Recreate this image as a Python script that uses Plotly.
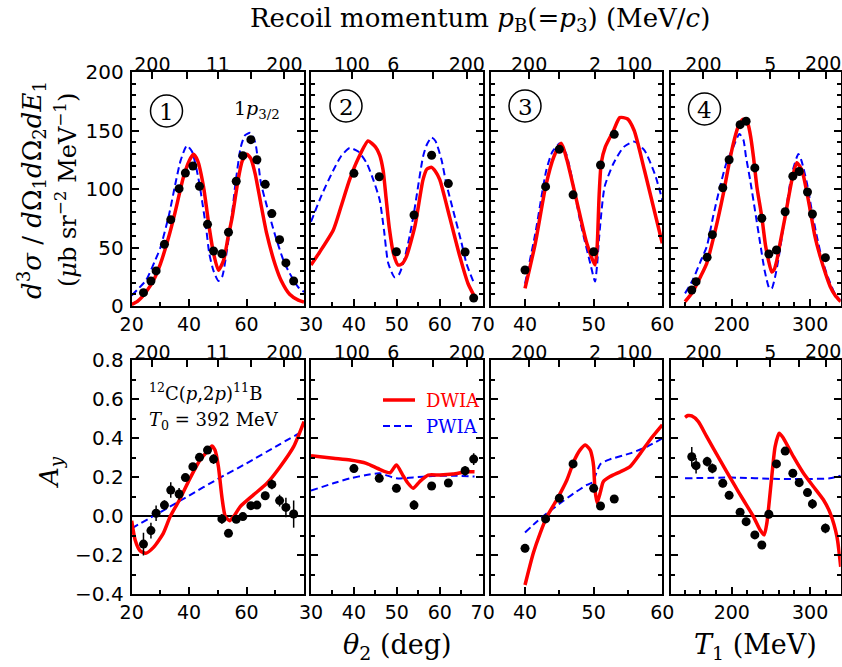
import plotly.graph_objects as go

W, H = 842, 667

# ---------------- data ----------------
# panel 1 (theta2 in deg)
theta_p1 = [24.1, 26.7, 28.5, 31.4, 33.6, 36.5, 38.7, 41.3, 43.6, 46.4, 48.5, 51.4,
            53.7, 56.4, 58.7, 61.5, 63.6, 66.5, 68.8, 71.5, 73.7, 76.4]
xs_p1 = [11.4, 21.4, 30, 52.7, 73.8, 100.3, 113.7, 119.7, 102.3, 69.8, 47, 44.7,
         63, 106.6, 128.5, 142.2, 125, 104, 79, 56.7, 36.8, 21.4]
ay_p1 = [-0.144, -0.075, 0.014, 0.056, 0.133, 0.113, 0.197, 0.253, 0.301, 0.338, 0.292, -0.015,
         -0.089, -0.017, -0.003, 0.053, 0.056, 0.104, 0.162, 0.079, 0.044, 0.01]
ay_err_p1 = [0.058, 0.04, 0.04, 0.025, 0.04, 0.03, 0.015, 0.015, 0.015, 0.015, 0.025, 0.025,
             0.015, 0.015, 0.015, 0.015, 0.015, 0.02, 0.025, 0.03, 0.05, 0.07]
dw_xs_x_p1 = [20, 22, 25, 28, 30, 33, 35, 38, 40, 41.5, 43, 45, 47, 48.5, 50.2, 52, 53.5, 55, 57,
              58.5, 60.1, 61.5, 63, 65, 67, 70, 72, 75, 78, 80]
dw_xs_y_p1 = [1.4, 4, 12, 24, 36, 60, 79, 110, 124, 129.6, 124, 102, 67, 45, 30.5, 39, 58, 76, 107,
              124, 129.6, 126, 113, 87, 62, 35, 22, 10, 5, 3.4]
pw_xs_x_p1 = [20, 22, 25, 28, 30, 33, 35, 37, 39.2, 41, 43, 44, 46, 47, 48.5, 50.2, 51.5, 53, 55,
              56, 58, 59.5, 61.3, 63, 65, 67, 70, 73, 75, 78, 80]
pw_xs_y_p1 = [9, 14, 22, 38, 50, 78, 102, 124, 137, 132, 112, 98, 65, 45, 30, 21.4, 25, 45, 80,
              102, 136, 146, 148, 140, 105, 86, 60, 38, 28, 16, 12]
dw_ay_x_p1 = [20, 21.2, 22.9, 24.9, 27.6, 31, 33.4, 36.9, 40.3, 43.8, 46.7, 47.9, 49, 50.2, 51.4,
              52.6, 54.1, 55.5, 57.8, 62.4, 67.1, 71.7, 76.4, 80]
dw_ay_y_p1 = [-0.024, -0.123, -0.178, -0.191, -0.161, -0.089, -0.003, 0.09, 0.193, 0.287, 0.338,
              0.359, 0.338, 0.253, 0.099, -0.003, -0.024, -0.003, 0.048, 0.108, 0.168, 0.253, 0.356, 0.484]
pw_ay_x_p1 = [20, 30, 40, 50, 60, 70, 80]
pw_ay_y_p1 = [-0.063, 0.02, 0.105, 0.19, 0.27, 0.355, 0.438]

# panel 2 (theta2 in deg)
theta_p2 = [40.0, 45.9, 49.9, 54.0, 58.1, 62.0, 65.9, 67.9]
xs_p2 = [113.4, 110.5, 46.4, 77.8, 128.8, 104.6, 46.2, 6.8]
ay_p2 = [0.243, 0.193, 0.142, 0.056, 0.154, 0.169, 0.232, 0.292]
ay_err_p2 = [0.02, 0.02, 0.02, 0.025, 0.02, 0.02, 0.025, 0.03]
dw_xs_x_p2 = [30, 32, 35.2, 37, 39, 41, 43.3, 45, 46, 46.8, 47.5, 48.2, 49.2, 50.3, 51.2, 52.2, 54.2,
              56.1, 57, 58.1, 59, 60, 62.3, 64.7, 66.6, 68.1]
dw_xs_y_p2 = [35, 46, 65, 85, 108, 126, 141, 136, 129, 116, 92, 68, 45, 35, 36, 42, 68,
              108, 117, 118.5, 115, 108, 76, 42, 19, 8]
pw_xs_x_p2 = [30, 32.5, 35.2, 37, 39, 41, 43, 44.5, 46, 47, 48, 49.5, 50.5, 51.5, 53, 54, 56.1, 57,
              58.1, 59, 60.4, 61.5, 63.1, 65, 66.2, 67.8]
pw_xs_y_p2 = [72, 95, 116, 128, 135, 132, 122, 108, 90.6, 65, 36.5, 24.5, 27, 36.5, 60, 80, 127.6, 138,
              144, 141, 125, 105, 82, 55, 36.5, 21]
dw_ay_x_p2 = [30, 35.2, 39.1, 42.9, 46, 48.4, 49.9, 51.5, 52.6, 53.8, 55.3, 57.3, 60, 63.1, 66.2, 68.1]
dw_ay_y_p2 = [0.309, 0.296, 0.287, 0.27, 0.239, 0.222, 0.262, 0.205, 0.168, 0.142, 0.176, 0.21,
              0.21, 0.215, 0.227, 0.227]
pw_ay_x_p2 = [30, 35.2, 39.1, 42.9, 46, 49.9, 53.8, 58.4, 63.1, 68.1]
pw_ay_y_p2 = [0.13, 0.168, 0.193, 0.21, 0.219, 0.193, 0.198, 0.205, 0.207, 0.202]

# panel 3 (theta2 in deg)
theta_p3 = [40.0, 43.0, 45.0, 47.0, 50.0, 51.0, 53.0]
xs_p3 = [30.8, 102, 134, 95, 46.4, 120.5, 146.7]
ay_p3 = [-0.166, -0.015, 0.091, 0.267, 0.142, 0.051, 0.087]
ay_err_p3 = [0.02, 0.015, 0.02, 0.02, 0.02, 0.02, 0.02]
dw_xs_x_p3 = [40, 41.5, 43, 44.2, 45.3, 46.1, 47.6, 49, 50.2, 50.5, 50.8, 51.1, 51.7, 52.9, 53.8,
              54.9, 55.9, 57.4, 60]
dw_xs_y_p3 = [15, 53.6, 102, 127.6, 139, 125, 88, 53.6, 35, 50, 95, 122, 136, 150, 161,
              160, 150, 116, 53.6]
pw_xs_x_p3 = [40, 41.5, 43.1, 44, 45.1, 46, 46.6, 48.1, 49.5, 50.2, 50.5, 50.8, 51.6, 52.9, 54.4,
              55.9, 57.4, 58.9, 60]
pw_xs_y_p3 = [19, 62, 116, 132, 139, 130, 116, 70.7, 36.5, 21, 35, 59, 102, 122, 136,
              140.5, 133, 113, 90.6]
dw_ay_x_p3 = [40, 41.2, 42.2, 43.2, 44.6, 46.1, 47.1, 48, 48.8, 49.5, 49.8, 50, 50.2, 50.5, 51,
              51.4, 52.4, 53.9, 55.3, 56.8, 58.2, 60]
dw_ay_y_p3 = [-0.354, -0.191, -0.089, -0.003, 0.082, 0.185, 0.279, 0.338, 0.364, 0.338, 0.3, 0.253,
              0.133, 0.068, 0.125, 0.176, 0.202, 0.227, 0.253, 0.321, 0.39, 0.467]
pw_ay_x_p3 = [40, 41.7, 43.2, 45.1, 47.1, 49, 50, 50.2, 51, 52.4, 55.3, 57.8, 60]
pw_ay_y_p3 = [-0.085, -0.029, 0.014, 0.065, 0.116, 0.159, 0.176, 0.202, 0.267, 0.291, 0.321, 0.356, 0.398]

# panel 4 (T1 in MeV)
t1_p4 = [148.9, 154.4, 168.5, 175.2, 188.5, 196.6, 210.6, 218.3, 229.4, 238.3, 247.3, 257.0,
         268.1, 277.9, 286.0, 296.6, 302.9, 319.5]
xs_p4 = [13.7, 20.8, 41.6, 61, 101, 125, 155, 158, 118, 75, 44.4, 47.9, 80.6, 111, 115, 97.4, 78.6, 41.3]
ay_p4 = [0.304, 0.258, 0.279, 0.244, 0.168, 0.106, 0.019, -0.029, -0.097, -0.149, 0.009, 0.267,
         0.333, 0.219, 0.171, 0.12, 0.062, -0.063]
ay_err_p4 = [0.05, 0.04, 0.025, 0.025, 0.02, 0.02, 0.02, 0.02, 0.02, 0.02, 0.015, 0.02,
             0.02, 0.02, 0.02, 0.02, 0.025, 0.025]
dw_xs_x_p4 = [140.3, 150, 160, 168, 178, 189.2, 196, 202, 208, 214, 218, 221, 224, 227.6, 232, 238.3,
              243, 246.8, 251, 254, 257.5, 262, 268, 276.7, 283, 289.5, 295, 300, 306, 313, 320,
              325.7, 332, 339]
dw_xs_y_p4 = [3.7, 12, 25, 36.5, 62, 96, 120, 139, 153, 159.5, 158, 154.7, 145, 127.6, 102, 76,
              52, 39, 29, 31, 39, 55, 76, 107.7, 122.5, 116, 100, 82, 60, 42, 27,
              16.5, 9, 3.7]
pw_xs_x_p4 = [140.3, 150, 160, 168, 176, 185, 193, 202, 209.7, 214.8, 218, 223.4, 230, 236.2, 242,
              248, 251, 255.3, 260, 266, 276.7, 285, 289, 295.9, 302, 308.7, 316, 325.7, 332, 339]
pw_xs_y_p4 = [10.8, 22, 38, 50.7, 76, 102, 122, 136, 147, 142, 128, 107.7, 80, 53.6, 30,
              15, 15, 25, 42, 68, 113, 130, 124, 105, 82, 59, 38, 19.4, 10, 4.6]
dw_ay_x_p4 = [140.3, 144, 148.8, 157.3, 168, 185, 202, 214.8, 227.6, 236.2, 241.3, 244.7, 251,
              255.3, 260.5, 266, 278.7, 291.5, 304.3, 317.1, 325.7, 334.2, 339]
dw_ay_y_p4 = [0.506, 0.515, 0.513, 0.484, 0.407, 0.287, 0.168, 0.082, -0.003, -0.072, -0.097, -0.038,
              0.202, 0.356, 0.424, 0.398, 0.304, 0.219, 0.15, 0.082, 0.014, -0.106, -0.26]
pw_ay_x_p4 = [140.3, 200, 260, 300, 325, 339]
pw_ay_y_p4 = [0.193, 0.197, 0.19, 0.19, 0.193, 0.207]

# recoil-momentum (top axis) ticks, given at the matching bottom-axis values
mom_at_p1 = [27.2, 39.2, 50.0, 61.6, 73.2]
mom_lab_p1 = ["200", "", "11", "", "200"]
mom_at_p2 = [39.5, 49.2, 58.5, 66.3]
mom_lab_p2 = ["100", "6", "", "200"]
mom_at_p3 = [40.6, 45.0, 50.2, 55.9]
mom_lab_p3 = ["200", "", "2", "100"]
mom_at_p4 = [163.7, 207.2, 249.0, 285.2, 320.3]
mom_lab_p4 = ["200", "", "5", "", "200"]

# bottom-axis ticks
xtick_p1 = [20, 40, 60, 80]
xtlab_p1 = ["20", "40", "60", ""]
xminor_p1 = [30, 50, 70]
xtick_p2 = [30, 40, 50, 60, 70]
xtlab_p2 = ["30", "40", "50", "60", "70"]
xminor_p2 = [35, 45, 55, 65]
xtick_p3 = [40, 50, 60]
xtlab_p3 = ["40", "50", "60"]
xminor_p3 = [35, 45, 55]
xtick_p4 = [200, 300]
xtlab_p4 = ["200", "300"]
xminor_p4 = [140, 160, 180, 220, 240, 260, 280, 320]

xrange_p1 = [20, 80]
xrange_p2 = [30, 70]
xrange_p3 = [35, 60]
xrange_p4 = [122, 339]

panel_labels = ["1", "2", "3", "4"]

# ---------------- figure ----------------
def fx(px):
    return px / W

def fy(py):
    return 1 - py / H

col_px = [(131.7, 304.0), (311.0, 482.7), (490.7, 662.3), (670.7, 840.7)]
row_px = [(72.0, 306.0), (360.0, 594.0)]

panels = [
    dict(xr=xrange_p1, xt=xtick_p1, xl=xtlab_p1, xm=xminor_p1, mt=mom_at_p1, ml=mom_lab_p1,
         xd=theta_p1, xs=xs_p1, ay=ay_p1, ae=ay_err_p1,
         dwx=dw_xs_x_p1, dwy=dw_xs_y_p1, pwx=pw_xs_x_p1, pwy=pw_xs_y_p1,
         dax=dw_ay_x_p1, day=dw_ay_y_p1, pax=pw_ay_x_p1, pay=pw_ay_y_p1),
    dict(xr=xrange_p2, xt=xtick_p2, xl=xtlab_p2, xm=xminor_p2, mt=mom_at_p2, ml=mom_lab_p2,
         xd=theta_p2, xs=xs_p2, ay=ay_p2, ae=ay_err_p2,
         dwx=dw_xs_x_p2, dwy=dw_xs_y_p2, pwx=pw_xs_x_p2, pwy=pw_xs_y_p2,
         dax=dw_ay_x_p2, day=dw_ay_y_p2, pax=pw_ay_x_p2, pay=pw_ay_y_p2),
    dict(xr=xrange_p3, xt=xtick_p3, xl=xtlab_p3, xm=xminor_p3, mt=mom_at_p3, ml=mom_lab_p3,
         xd=theta_p3, xs=xs_p3, ay=ay_p3, ae=ay_err_p3,
         dwx=dw_xs_x_p3, dwy=dw_xs_y_p3, pwx=pw_xs_x_p3, pwy=pw_xs_y_p3,
         dax=dw_ay_x_p3, day=dw_ay_y_p3, pax=pw_ay_x_p3, pay=pw_ay_y_p3),
    dict(xr=xrange_p4, xt=xtick_p4, xl=xtlab_p4, xm=xminor_p4, mt=mom_at_p4, ml=mom_lab_p4,
         xd=t1_p4, xs=xs_p4, ay=ay_p4, ae=ay_err_p4,
         dwx=dw_xs_x_p4, dwy=dw_xs_y_p4, pwx=pw_xs_x_p4, pwy=pw_xs_y_p4,
         dax=dw_ay_x_p4, day=dw_ay_y_p4, pax=pw_ay_x_p4, pay=pw_ay_y_p4),
]

TICKFONT = dict(family="DejaVu Sans", size=19, color="black")
SERIF = "DejaVu Serif"

fig = go.Figure()
layout = dict(
    width=W, height=H, margin=dict(l=0, r=0, t=0, b=0, autoexpand=False),
    paper_bgcolor="white", plot_bgcolor="white", showlegend=False,
)

edge_labels = []  # top-axis labels that sit at the right page edge

for row in range(2):
    for c, p in enumerate(panels):
        k = row * 4 + c + 1
        ktop = k + 8
        xa, ya = f"x{k}", f"y{k}"
        dom_x = [fx(col_px[c][0]), fx(col_px[c][1])]
        dom_y = [fy(row_px[row][1]), fy(row_px[row][0])]
        mom_text = list(p["ml"])
        if c == 3:
            # the last label would run past the page edge; drawn as an annotation instead
            edge_labels.append((row, mom_text[-1]))
            mom_text[-1] = ""
        layout[f"xaxis{k}"] = dict(
            domain=dom_x, anchor=ya, range=p["xr"], automargin=False,
            tickmode="array", tickvals=p["xt"], ticktext=p["xl"],
            ticks="inside", ticklen=7, tickwidth=1.5, tickcolor="black",
            minor=dict(tickmode="array", tickvals=p["xm"], ticks="inside", ticklen=4,
                       tickwidth=1.5, tickcolor="black"),
            showline=True, linewidth=2, linecolor="black", mirror=True,
            showgrid=False, zeroline=False, tickfont=TICKFONT, ticklabelstandoff=0,
        )
        layout[f"xaxis{ktop}"] = dict(
            overlaying=xa, anchor=ya, side="top", range=p["xr"], automargin=False,
            tickmode="array", tickvals=p["mt"], ticktext=mom_text,
            ticks="inside", ticklen=7, tickwidth=1.5, tickcolor="black",
            showline=False, showgrid=False, zeroline=False, tickfont=TICKFONT,
            ticklabelstandoff=-4,
        )
        if row == 0:
            yax = dict(range=[0, 200], tickmode="linear", tick0=0, dtick=50,
                       minor=dict(dtick=10, ticks="inside", ticklen=4, tickwidth=1.5,
                                  tickcolor="black"),
                       zeroline=False)
        else:
            yax = dict(range=[-0.4, 0.8], tickmode="linear", tick0=0, dtick=0.2,
                       tickformat=".1f",
                       minor=dict(dtick=0.1, ticks="inside", ticklen=4, tickwidth=1.5,
                                  tickcolor="black"),
                       zeroline=True, zerolinecolor="black", zerolinewidth=1.5)
        yax.update(domain=dom_y, anchor=xa, automargin=False, ticks="inside", ticklen=7,
                   tickwidth=1.5, tickcolor="black", showline=True, linewidth=2,
                   linecolor="black", mirror="ticks", showgrid=False,
                   showticklabels=(c == 0),
                   tickfont=dict(family="DejaVu Sans", size=20, color="black"),
                   ticklabelstandoff=2)
        layout[f"yaxis{k}"] = yax

        # invisible trace so that the top recoil-momentum axis is drawn
        fig.add_trace(go.Scatter(x=p["xr"], y=[None, None], xaxis=f"x{ktop}", yaxis=ya,
                                 mode="markers", marker=dict(opacity=0), hoverinfo="skip"))
        if row == 0:
            fig.add_trace(go.Scatter(x=p["pwx"], y=p["pwy"], xaxis=xa, yaxis=ya, mode="lines",
                                     line=dict(color="blue", width=2, dash="7px,4px",
                                               shape="spline", smoothing=0.6)))
            fig.add_trace(go.Scatter(x=p["dwx"], y=p["dwy"], xaxis=xa, yaxis=ya, mode="lines",
                                     line=dict(color="red", width=3.5, shape="spline",
                                               smoothing=0.6)))
            fig.add_trace(go.Scatter(x=p["xd"], y=p["xs"], xaxis=xa, yaxis=ya, mode="markers",
                                     marker=dict(color="black", size=9)))
        else:
            fig.add_trace(go.Scatter(x=p["pax"], y=p["pay"], xaxis=xa, yaxis=ya, mode="lines",
                                     line=dict(color="blue", width=2, dash="7px,4px",
                                               shape="spline", smoothing=0.6)))
            fig.add_trace(go.Scatter(x=p["dax"], y=p["day"], xaxis=xa, yaxis=ya, mode="lines",
                                     line=dict(color="red", width=3.5, shape="spline",
                                               smoothing=0.6)))
            fig.add_trace(go.Scatter(x=p["xd"], y=p["ay"], xaxis=xa, yaxis=ya, mode="markers",
                                     marker=dict(color="black", size=9),
                                     error_y=dict(type="data", array=p["ae"], color="black",
                                                  thickness=1.5, width=0)))

fig.update_layout(**layout)

annotations = []
shapes = []

def text(px, py, s, size, xanchor="center", color="black", angle=0, family=SERIF):
    annotations.append(dict(x=fx(px), y=fy(py), xref="paper", yref="paper", text=s,
                            showarrow=False, xanchor=xanchor, yanchor="middle",
                            textangle=angle, font=dict(family=family, size=size, color=color)))

# edge labels of the recoil-momentum axis in panel 4
for row, lab in edge_labels:
    annotations.append(dict(x=1.0, y=fy(row_px[row][0] - 9), xref="paper", yref="paper",
                            text=lab, showarrow=False, xanchor="right", yanchor="middle",
                            xshift=1, font=TICKFONT))

# title & axis titles
text(480, 19, "Recoil momentum <i>p</i><sub>B</sub>(=<i>p</i><sub>3</sub>) (MeV/<i>c</i>)", 26)
text(397, 646, "<i>θ</i><sub>2</sub> (deg)", 27)
text(755, 646, "<i>T</i><sub>1</sub> (MeV)", 27)
text(31, 190, "<i>d</i><sup>3</sup><i>σ</i> / <i>d</i>Ω<sub>1</sub><i>d</i>Ω<sub>2</sub><i>dE</i><sub>1</sub>",
     26, angle=-90)
text(66, 190, "(<i>μ</i>b sr<sup>−2</sup> MeV<sup>−1</sup>)", 24, angle=-90)
text(50, 472, "<i>A<sub>y</sub></i>", 26, angle=-90)

# panel texts
text(232, 110, "1<i>p</i><sub>3/2</sub>", 19, xanchor="left")
text(147, 392, "<sup>12</sup>C(<i>p</i>,2<i>p</i>)<sup>11</sup>B", 18, xanchor="left")
text(147, 421, "<i>T</i><sub>0</sub> = 392 MeV", 18, xanchor="left")

# circled panel numbers
circle_px = [(166.5, 111), (346, 106), (525, 106), (704.5, 109)]
for (cx, cy), lab in zip(circle_px, panel_labels):
    r = 16
    shapes.append(dict(type="circle", xref="paper", yref="paper",
                       x0=fx(cx - r), x1=fx(cx + r), y0=fy(cy + r), y1=fy(cy - r),
                       line=dict(color="black", width=1.5)))
    text(cx, cy + 1, lab, 23)

# legend
shapes.append(dict(type="line", xref="paper", yref="paper", x0=fx(383), x1=fx(415),
                   y0=fy(400), y1=fy(400), line=dict(color="red", width=3.5)))
shapes.append(dict(type="line", xref="paper", yref="paper", x0=fx(383), x1=fx(415),
                   y0=fy(426), y1=fy(426), line=dict(color="blue", width=2, dash="7px,4px")))
text(424, 400, "DWIA", 18, xanchor="left", color="red")
text(424, 426, "PWIA", 18, xanchor="left", color="blue")

fig.update_layout(annotations=annotations, shapes=shapes)
fig.write_html("out.html", config={"displayModeBar": False},
               post_script="document.body.style.margin='0px';")
